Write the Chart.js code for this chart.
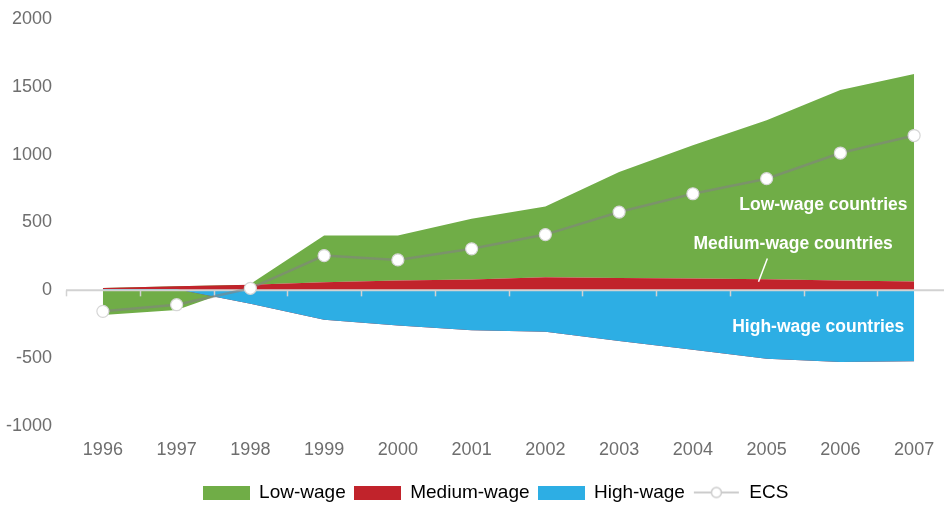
<!DOCTYPE html>
<html>
<head>
<meta charset="utf-8">
<script src="https://cdn.jsdelivr.net/npm/chart.js@4.4.0/dist/chart.umd.min.js"></script>
<style>
  html, body { margin: 0; padding: 0; background: #fff; overflow: hidden; }
</style>
</head>
<body>
<canvas id="graficaECS" width="951" height="506"></canvas>
<script>
// Datos
const years = ['1996', '1997', '1998', '1999', '2000', '2001', '2002', '2003', '2004', '2005', '2006', '2007'];
const highWage   = [10, 8, -99, -217, -259, -295, -305, -374, -438, -505, -529, -522];
const mediumWage = [8, 22, 42, 59, 72, 79, 96, 91, 88, 81, 72, 66];
const lowWage    = [-182, -145, 5, 346, 333, 449, 522, 781, 981, 1173, 1404, 1528];
const ecs        = [-155, -106, 15, 256, 224, 306, 411, 577, 712, 823, 1012, 1141];
const yMin = -1000, yMax = 2000, yStep = 500;

const COLOR_LOW = '#70ad47';
const COLOR_MED = '#c1232b';
const COLOR_HIGH = '#2daee4';
const FONT = '"Liberation Sans", Arial, Helvetica, sans-serif';

// Etiquetas dentro del área (posición en unidades de datos)
const areaLabels = [
    { text: 'Low-wage countries', x: 9.77, y: 626 },
    { text: 'Medium-wage countries', x: 9.36, y: 338 },
    { text: 'High-wage countries', x: 9.70, y: -268 }
];
const leader = { x1: 9.01, y1: 234, x2: 8.89, y2: 64 };

// Iconos de la leyenda
function swatch(color) {
    const c = document.createElement('canvas');
    c.width = 47; c.height = 14;
    const g = c.getContext('2d');
    g.fillStyle = color;
    g.fillRect(0, 0, 47, 14);
    return c;
}
function ecsIcon() {
    const c = document.createElement('canvas');
    c.width = 47; c.height = 14;
    const g = c.getContext('2d');
    g.strokeStyle = '#cccccc';
    g.lineWidth = 2;
    g.beginPath(); g.moveTo(1, 7); g.lineTo(46, 7); g.stroke();
    g.beginPath(); g.arc(23.5, 7, 5, 0, Math.PI * 2);
    g.fillStyle = '#fff'; g.fill();
    g.lineWidth = 1.5; g.stroke();
    return c;
}

// Línea del cero con marcas, dibujada sobre las áreas y bajo la serie ECS
const zeroLine = {
    id: 'zeroLine',
    afterDatasetDraw(chart, args) {
        if (args.index !== 0) return;
        const ctx = chart.ctx;
        const x = chart.scales.x, y = chart.scales.y;
        const y0 = y.getPixelForValue(0);
        ctx.save();
        ctx.strokeStyle = '#d2d2d2';
        ctx.lineWidth = 2;
        ctx.beginPath();
        ctx.moveTo(chart.chartArea.left, y0);
        ctx.lineTo(chart.width, y0);
        ctx.stroke();
        ctx.lineWidth = 1.5;
        for (let i = 0; i <= years.length; i++) {
            const px = Math.round(x.getPixelForValue(i - 0.5)) + 0.5;
            ctx.beginPath();
            ctx.moveTo(px, y0);
            ctx.lineTo(px, y0 + 6);
            ctx.stroke();
        }
        ctx.restore();
    }
};

const labelsPlugin = {
    id: 'areaLabels',
    afterDatasetsDraw(chart) {
        const ctx = chart.ctx;
        const x = chart.scales.x, y = chart.scales.y;
        ctx.save();
        ctx.fillStyle = '#ffffff';
        ctx.font = 'bold 17.5px ' + FONT;
        ctx.textAlign = 'center';
        ctx.textBaseline = 'middle';
        areaLabels.forEach(l => {
            ctx.fillText(l.text, x.getPixelForValue(l.x), y.getPixelForValue(l.y));
        });
        ctx.strokeStyle = '#ffffff';
        ctx.lineWidth = 1.5;
        ctx.beginPath();
        ctx.moveTo(x.getPixelForValue(leader.x1), y.getPixelForValue(leader.y1));
        ctx.lineTo(x.getPixelForValue(leader.x2), y.getPixelForValue(leader.y2));
        ctx.stroke();
        ctx.restore();
    }
};

// Desplazar la leyenda como en el original
const legendShift = {
    id: 'legendShift',
    afterLayout(chart) {
        const lg = chart.legend;
        lg.left += 20; lg.right += 20;
        lg.top += 5; lg.bottom += 5;
    }
};

const legendItems = [
    { text: 'Low-wage', pointStyle: swatch(COLOR_LOW), datasetIndex: 2 },
    { text: 'Medium-wage', pointStyle: swatch(COLOR_MED), datasetIndex: 1 },
    { text: 'High-wage', pointStyle: swatch(COLOR_HIGH), datasetIndex: 0 },
    { text: 'ECS', pointStyle: ecsIcon(), datasetIndex: 3 }
];

const ctx = document.getElementById('graficaECS').getContext('2d');
const chartECS = new Chart(ctx, {
    type: 'line',
    data: {
        labels: years,
        datasets: [
            { label: 'High-wage', data: highWage, backgroundColor: COLOR_HIGH, borderWidth: 0,
              pointRadius: 0, fill: 'origin', stack: 'areas' },
            { label: 'Medium-wage', data: mediumWage, backgroundColor: COLOR_MED, borderWidth: 0,
              pointRadius: 0, fill: '-1', stack: 'areas' },
            { label: 'Low-wage', data: lowWage, backgroundColor: COLOR_LOW, borderWidth: 0,
              pointRadius: 0, fill: '-1', stack: 'areas' },
            { label: 'ECS', data: ecs, borderColor: 'rgba(130,130,130,0.6)', borderWidth: 2.5,
              pointRadius: 6, pointBackgroundColor: '#ffffff', pointBorderColor: '#d6d6d6',
              pointBorderWidth: 1.2, fill: false, stack: 'ecs', order: -1 }
        ]
    },
    options: {
        responsive: false,
        animation: false,
        devicePixelRatio: 1,
        elements: { line: { tension: 0 } },
        layout: { autoPadding: false, padding: { top: 19, right: 0, bottom: -1, left: 0 } },
        scales: {
            x: {
                offset: true,
                grid: { display: false, drawTicks: false },
                border: { display: false },
                ticks: { color: '#6e6e6e', font: { size: 18, family: FONT }, padding: 13, maxRotation: 0 },
                afterFit: s => { s.height = 44; s.paddingLeft = 0; s.paddingRight = 0; }
            },
            y: {
                stacked: true,
                min: yMin, max: yMax,
                grid: { display: false, drawTicks: false },
                border: { display: false },
                ticks: { stepSize: yStep, color: '#6e6e6e', font: { size: 18, family: FONT }, padding: 14,
                         callback: v => String(v) },
                afterFit: s => { s.width = 66; s.paddingTop = 0; s.paddingBottom = 0; }
            }
        },
        plugins: {
            tooltip: { enabled: false },
            legend: {
                position: 'bottom',
                labels: {
                    usePointStyle: true,
                    pointStyleWidth: 47,
                    boxHeight: 14,
                    padding: 8,
                    color: '#555555',
                    font: { size: 19, family: FONT },
                    generateLabels: () => legendItems.map(it => ({
                        text: it.text, pointStyle: it.pointStyle, datasetIndex: it.datasetIndex,
                        fillStyle: '#fff', strokeStyle: '#fff', lineWidth: 0, hidden: false
                    }))
                }
            }
        }
    },
    plugins: [zeroLine, labelsPlugin, legendShift]
});
</script>
</body>
</html>
